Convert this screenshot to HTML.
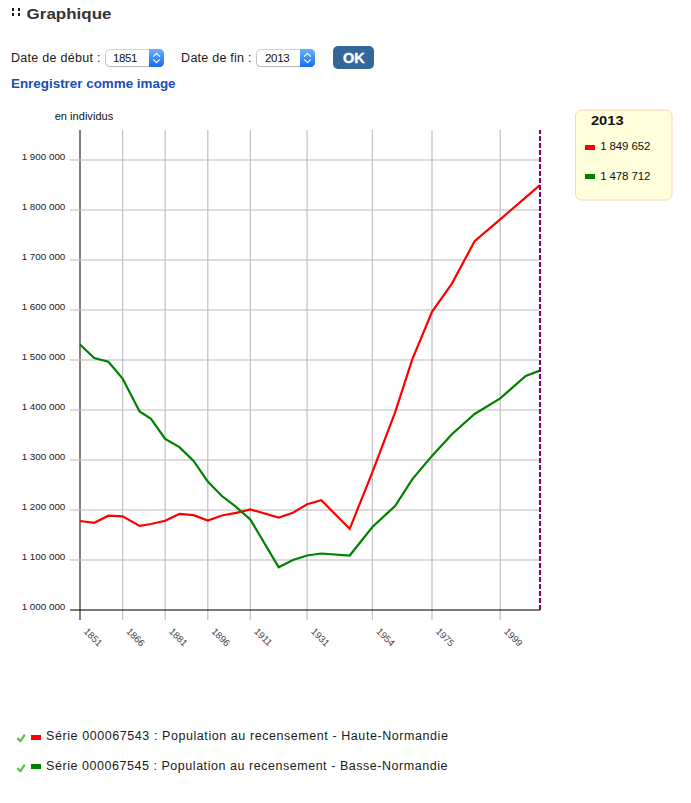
<!DOCTYPE html>
<html><head><meta charset="utf-8">
<style>
html,body{margin:0;padding:0;background:#fff;width:691px;height:803px;overflow:hidden;}
body{position:relative;font-family:"Liberation Sans",sans-serif;}
svg{position:absolute;left:0;top:0;}
text{font-family:"Liberation Sans",sans-serif;white-space:pre;}
.yl{font-size:9.8px;fill:#222;}
.xl{font-size:9.6px;fill:#444;}
</style></head><body>
<svg width="691" height="803" viewBox="0 0 691 803">
<rect x="12" y="8" width="2" height="3" fill="#1a1a1a"/><rect x="18" y="8" width="2" height="3" fill="#1a1a1a"/>
<rect x="12" y="13" width="2" height="3" fill="#1a1a1a"/><rect x="18" y="13" width="2" height="3" fill="#1a1a1a"/>
<defs>
<linearGradient id="blue" x1="0" y1="0" x2="0" y2="1"><stop offset="0" stop-color="#5aa2fb"/><stop offset="1" stop-color="#1f6ff0"/></linearGradient>
</defs>
<linearGradient id="blue2" x1="0" y1="0" x2="0" y2="1"><stop offset="0" stop-color="#6cb0fb"/><stop offset="0.5" stop-color="#3f8ff8"/><stop offset="1" stop-color="#186af6"/></linearGradient>
<linearGradient id="selb" x1="0" y1="0" x2="0" y2="1"><stop offset="0" stop-color="#d2d2d2"/><stop offset="1" stop-color="#b4b4b4"/></linearGradient>
<rect x="105.5" y="49.5" width="58" height="17" rx="4" fill="#fff" stroke="url(#selb)"/>
<path d="M149,49 h10.5 a4.5,4.5 0 0 1 4.5,4.5 v9 a4.5,4.5 0 0 1 -4.5,4.5 h-10.5 z" fill="url(#blue2)"/>
<path d="M153.2,56.6 L156.5,53.4 L159.8,56.6 M153.2,59.4 L156.5,62.6 L159.8,59.4" fill="none" stroke="#fff" stroke-width="1.2"/>
<rect x="256.5" y="49.5" width="58" height="17" rx="4" fill="#fff" stroke="url(#selb)"/>
<path d="M300,49 h10.5 a4.5,4.5 0 0 1 4.5,4.5 v9 a4.5,4.5 0 0 1 -4.5,4.5 h-10.5 z" fill="url(#blue2)"/>
<path d="M304.2,56.6 L307.5,53.4 L310.8,56.6 M304.2,59.4 L307.5,62.6 L310.8,59.4" fill="none" stroke="#fff" stroke-width="1.2"/>
<rect x="333" y="46" width="41" height="23" rx="5" fill="#336699"/>
<text x="343" y="63" font-size="14.5" font-weight="bold" fill="#fff" stroke="#fff" stroke-width="0.35">OK</text>
<rect x="575.5" y="110" width="96.5" height="90" rx="6" fill="#ffffdb" stroke="#fad8b4"/>
<rect x="585" y="145" width="10" height="5" fill="#f00"/>
<rect x="585" y="174" width="10" height="5" fill="#008000"/>
<rect x="31" y="735" width="10" height="5" fill="#f00"/>
<rect x="31" y="764" width="10" height="5" fill="#008000"/>
<path d="M17.3,738.2 L20.4,741.2 L24.8,734.6" fill="none" stroke="#66c054" stroke-width="2.3" stroke-linejoin="round"/>
<path d="M17.3,768.2 L20.4,771.2 L24.8,764.6" fill="none" stroke="#66c054" stroke-width="2.3" stroke-linejoin="round"/>
<line x1="122.6" y1="130" x2="122.6" y2="620" stroke="#c4c4c4" stroke-width="1.3"/>
<line x1="165.2" y1="130" x2="165.2" y2="620" stroke="#c4c4c4" stroke-width="1.3"/>
<line x1="207.8" y1="130" x2="207.8" y2="620" stroke="#c4c4c4" stroke-width="1.3"/>
<line x1="250.3" y1="130" x2="250.3" y2="620" stroke="#c4c4c4" stroke-width="1.3"/>
<line x1="307.1" y1="130" x2="307.1" y2="620" stroke="#c4c4c4" stroke-width="1.3"/>
<line x1="372.4" y1="130" x2="372.4" y2="620" stroke="#c4c4c4" stroke-width="1.3"/>
<line x1="432.0" y1="130" x2="432.0" y2="620" stroke="#c4c4c4" stroke-width="1.3"/>
<line x1="500.2" y1="130" x2="500.2" y2="620" stroke="#c4c4c4" stroke-width="1.3"/>
<rect x="79" y="130" width="2" height="490" fill="#000" fill-opacity="0.5"/>
<rect x="70" y="609" width="470" height="2" fill="#000" fill-opacity="0.52"/>
<rect x="70" y="559" width="469" height="2" fill="#c0c0c0" fill-opacity="0.556"/>
<rect x="70" y="509" width="469" height="2" fill="#c0c0c0" fill-opacity="0.556"/>
<rect x="70" y="459" width="469" height="2" fill="#c0c0c0" fill-opacity="0.556"/>
<rect x="70" y="409" width="469" height="2" fill="#c0c0c0" fill-opacity="0.556"/>
<rect x="70" y="359" width="469" height="2" fill="#c0c0c0" fill-opacity="0.556"/>
<rect x="70" y="309" width="469" height="2" fill="#c0c0c0" fill-opacity="0.556"/>
<rect x="70" y="259" width="469" height="2" fill="#c0c0c0" fill-opacity="0.556"/>
<rect x="70" y="209" width="469" height="2" fill="#c0c0c0" fill-opacity="0.556"/>
<rect x="70" y="159" width="469" height="2" fill="#c0c0c0" fill-opacity="0.556"/>
<text x="65.3" y="610" text-anchor="end" class="yl">1 000 000</text>
<text x="65.3" y="560" text-anchor="end" class="yl">1 100 000</text>
<text x="65.3" y="510" text-anchor="end" class="yl">1 200 000</text>
<text x="65.3" y="460" text-anchor="end" class="yl">1 300 000</text>
<text x="65.3" y="410" text-anchor="end" class="yl">1 400 000</text>
<text x="65.3" y="360" text-anchor="end" class="yl">1 500 000</text>
<text x="65.3" y="310" text-anchor="end" class="yl">1 600 000</text>
<text x="65.3" y="260" text-anchor="end" class="yl">1 700 000</text>
<text x="65.3" y="210" text-anchor="end" class="yl">1 800 000</text>
<text x="65.3" y="160" text-anchor="end" class="yl">1 900 000</text>
<text x="83.2" y="632" transform="rotate(45 83.2 632)" class="xl">1851</text>
<text x="125.8" y="632" transform="rotate(45 125.8 632)" class="xl">1866</text>
<text x="168.4" y="632" transform="rotate(45 168.4 632)" class="xl">1881</text>
<text x="211.0" y="632" transform="rotate(45 211.0 632)" class="xl">1896</text>
<text x="253.6" y="632" transform="rotate(45 253.6 632)" class="xl">1911</text>
<text x="310.4" y="632" transform="rotate(45 310.4 632)" class="xl">1931</text>
<text x="375.7" y="632" transform="rotate(45 375.7 632)" class="xl">1954</text>
<text x="435.3" y="632" transform="rotate(45 435.3 632)" class="xl">1975</text>
<text x="503.4" y="632" transform="rotate(45 503.4 632)" class="xl">1999</text>
<polyline points="80.0,521.0 94.2,522.8 108.4,515.7 122.6,516.3 139.6,525.9 151.0,524.0 165.2,520.7 179.4,513.9 193.6,515.2 207.8,520.6 221.9,515.5 236.1,512.9 250.3,509.4 278.7,517.6 292.9,512.8 307.1,504.2 321.3,500.2 349.7,528.8 372.4,472.2 395.1,412.3 412.2,359.7 432.0,311.8 451.9,283.6 474.6,241.2 500.2,219.3 525.7,197.4 539.9,185.2" fill="none" stroke="#ff0000" stroke-width="2.2" stroke-linejoin="miter" stroke-miterlimit="10"/>
<polyline points="80.0,344.5 94.2,358.0 108.4,361.8 122.6,378.6 139.6,411.5 151.0,418.9 165.2,438.9 179.4,447.1 193.6,460.9 207.8,481.5 221.9,496.0 236.1,506.9 250.3,519.4 278.7,567.2 292.9,560.0 307.1,555.5 321.3,553.5 349.7,555.5 372.4,527.0 395.1,506.0 412.2,479.4 432.0,455.9 451.9,434.2 474.6,414.0 500.2,398.4 525.7,375.9 539.9,370.6" fill="none" stroke="#008000" stroke-width="2.2" stroke-linejoin="miter" stroke-miterlimit="10"/>
<line x1="540" y1="130" x2="540" y2="610" stroke="#800080" stroke-width="2.1" stroke-dasharray="5,2" stroke-dashoffset="1.1"/>
<text id="title" x="0" y="0" transform="translate(26.60 18.50) scale(1.0951 1)" font-size="15.5" fill="#333" font-weight="bold">Graphique</text>
<text id="date1" x="11.00" y="62.00" font-size="12.5" fill="#1a1a1a" textLength="89.48" lengthAdjust="spacing">Date de début :</text>
<text id="date2" x="181.10" y="62.00" font-size="12.5" fill="#1a1a1a" textLength="70.41" lengthAdjust="spacing">Date de fin :</text>
<text id="sel1" x="112.90" y="62.00" font-size="11.5" fill="#111" textLength="24.50" lengthAdjust="spacing">1851</text>
<text id="sel2" x="265.00" y="62.00" font-size="11.5" fill="#111" textLength="24.70" lengthAdjust="spacing">2013</text>
<text id="save" x="0" y="0" transform="translate(11.00 88.00) scale(1.0724 1)" font-size="12.5" fill="#1b4db3" font-weight="bold">Enregistrer comme image</text>
<text id="unit" x="54.70" y="120.00" font-size="11" fill="#111" textLength="58.49" lengthAdjust="spacing">en individus</text>
<text id="lyear" x="0" y="0" transform="translate(590.90 125.20) scale(1.1786 1)" font-size="12.5" fill="#111" font-weight="bold">2013</text>
<text id="lv1" x="600.20" y="150.00" font-size="11.5" fill="#111" textLength="50.17" lengthAdjust="spacing">1 849 652</text>
<text id="lv2" x="600.20" y="180.00" font-size="11.5" fill="#111" textLength="50.17" lengthAdjust="spacing">1 478 712</text>
<text id="ser1" x="46.10" y="740.00" font-size="12.5" fill="#1a1a1a" textLength="401.79" lengthAdjust="spacing">Série 000067543 : Population au recensement - Haute-Normandie</text>
<text id="ser2" x="46.10" y="770.00" font-size="12.5" fill="#1a1a1a" textLength="401.38" lengthAdjust="spacing">Série 000067545 : Population au recensement - Basse-Normandie</text>
</svg>
</body></html>
